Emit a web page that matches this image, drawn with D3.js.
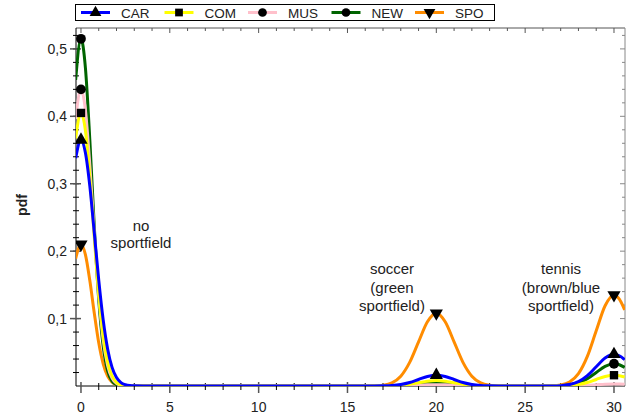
<!DOCTYPE html>
<html>
<head>
<meta charset="utf-8">
<script src="https://cdn.jsdelivr.net/npm/d3@7"></script>
<style>
  body { margin: 0; background: #fff; }
  text { font-family: "Liberation Sans", Arial, sans-serif; fill: #222; }
</style>
</head>
<body>
<svg id="chart" width="644" height="418"></svg>
<script>
// sample positions along x (dense near the peaks)
const xs = [-0.3, 0, 0.25, 0.5, 0.75, 1, 1.25, 1.5, 1.75, 2, 2.25, 2.5, 2.75, 3, 3.5, 4, 10,
  16, 16.5, 17, 17.5, 18, 18.5, 19, 19.5, 20, 20.5, 21, 21.5, 22, 22.5, 23, 23.5, 24,
  26, 26.5, 27, 27.5, 28, 28.5, 29, 29.5, 30, 30.3, 30.6];

const car = [0.338, 0.365, 0.346, 0.296, 0.227, 0.157, 0.098, 0.055, 0.0276, 0.0125, 0.0051, 0.0019, 0.0006, 0.0002, 0, 0, 0,
  0, 0, 0.0002, 0.0007, 0.0022, 0.0052, 0.0097, 0.0141, 0.016, 0.0141, 0.0097, 0.0052, 0.0022, 0.0007, 0.0002, 0, 0,
  0, 0.0001, 0.0005, 0.0021, 0.0064, 0.0153, 0.0285, 0.0415, 0.047, 0.0449, 0.039];
const com = [0.367, 0.405, 0.379, 0.309, 0.220, 0.137, 0.075, 0.0356, 0.0148, 0.0054, 0.0017, 0.0005, 0.0001, 0, 0, 0, 0,
  0, 0, 0.0001, 0.0004, 0.0011, 0.0026, 0.0049, 0.0071, 0.008, 0.0071, 0.0049, 0.0026, 0.0011, 0.0004, 0.0001, 0, 0,
  0, 0, 0.0002, 0.0007, 0.0022, 0.0052, 0.0097, 0.0141, 0.016, 0.0153, 0.0134];
const mus = [0.396, 0.44, 0.409, 0.327, 0.226, 0.135, 0.069, 0.0307, 0.0117, 0.0039, 0.0011, 0.0003, 0, 0, 0, 0, 0,
  0, 0, 0, 0.0001, 0.0003, 0.0006, 0.0012, 0.0018, 0.002, 0.0018, 0.0012, 0.0006, 0.0003, 0.0001, 0, 0, 0,
  0, 0, 0, 0.0001, 0.0004, 0.001, 0.0018, 0.0026, 0.003, 0.0029, 0.0025];
const nw = [0.454, 0.515, 0.472, 0.364, 0.236, 0.128, 0.059, 0.0226, 0.0073, 0.002, 0.0005, 0.0001, 0, 0, 0, 0, 0,
  0, 0, 0.0001, 0.0002, 0.0007, 0.0016, 0.003, 0.0044, 0.005, 0.0044, 0.003, 0.0016, 0.0007, 0.0002, 0.0001, 0, 0,
  0, 0, 0.0004, 0.0015, 0.0045, 0.0107, 0.02, 0.0291, 0.033, 0.0315, 0.0276];
const spo = [0.189, 0.21, 0.195, 0.156, 0.108, 0.064, 0.033, 0.0146, 0.0056, 0.0018, 0.0005, 0.0001, 0, 0, 0, 0, 0,
  0, 0.0002, 0.0012, 0.0047, 0.0146, 0.0351, 0.0655, 0.0953, 0.108, 0.0953, 0.0655, 0.0351, 0.0146, 0.0047, 0.0012, 0.0002, 0,
  0, 0.0003, 0.0015, 0.0059, 0.0183, 0.0439, 0.0819, 0.119, 0.135, 0.129, 0.113];

// x positions where each series shows a marker
const markerXs = [[0, 20, 30], [0, 30], [0], [0, 30], [0, 20, 30]];

const seriesNames = ['CAR', 'COM', 'MUS', 'NEW', 'SPO'];
const seriesValues = [car, com, mus, nw, spo];
const seriesColors = ['#0000ff', '#ffff00', '#ffc0cb', '#006400', '#ff8c00'];
const seriesSymbols = [d3.symbolTriangle, d3.symbolSquare, d3.symbolCircle, d3.symbolCircle, 'down'];

const xTicks = [0, 5, 10, 15, 20, 25, 30];
const yTicks = [0.1, 0.2, 0.3, 0.4, 0.5];

const svg = d3.select('#chart');
const mLeft = 76, mRight = 625, mTop = 28, mBottom = 386;

const x = d3.scaleLinear().domain([-0.28, 30.62]).range([mLeft, mRight]);
const y = d3.scaleLinear().domain([0, 0.531]).range([mBottom, mTop]);
const fmt = v => d3.format('.1f')(v).replace('.', ',');

svg.append('clipPath').attr('id', 'plotclip')
  .append('rect')
  .attr('x', mLeft).attr('y', mTop - 10)
  .attr('width', mRight - mLeft).attr('height', mBottom - mTop + 10);

// frame: top and right are drawn lighter
svg.append('line').attr('x1', mLeft).attr('x2', mRight).attr('y1', mTop).attr('y2', mTop)
  .attr('stroke', '#555').attr('stroke-width', 1);
svg.append('line').attr('x1', mRight).attr('x2', mRight).attr('y1', mTop).attr('y2', mBottom)
  .attr('stroke', '#888').attr('stroke-width', 1);

const xMinor = d3.range(0, 31, 1);
const yMinor = d3.range(0.02, 0.531, 0.02);

// top frame ticks
svg.selectAll('.tt').data(xMinor).enter().append('line')
  .attr('x1', d => x(d)).attr('x2', d => x(d))
  .attr('y1', mTop).attr('y2', d => mTop + (d % 5 === 0 ? 5 : 3))
  .attr('stroke', '#555');
// right frame ticks
svg.selectAll('.rt').data(yMinor).enter().append('line')
  .attr('y1', d => y(d)).attr('y2', d => y(d))
  .attr('x1', mRight).attr('x2', d => mRight - (Math.abs(d * 10 - Math.round(d * 10)) < 1e-6 ? 5 : 3))
  .attr('stroke', '#888');

// left axis
svg.append('line').attr('x1', mLeft).attr('x2', mLeft).attr('y1', mTop).attr('y2', mBottom)
  .attr('stroke', '#000');
svg.selectAll('.lmin').data(yMinor).enter().append('line')
  .attr('y1', d => y(d)).attr('y2', d => y(d))
  .attr('x1', mLeft - 3).attr('x2', mLeft + 3)
  .attr('stroke', '#000');
svg.selectAll('.lmaj').data(yTicks).enter().append('line')
  .attr('y1', d => y(d)).attr('y2', d => y(d))
  .attr('x1', mLeft - 6).attr('x2', mLeft + 5)
  .attr('stroke', '#555').attr('stroke-width', 1.5);
svg.selectAll('.ylab').data(yTicks).enter().append('text')
  .attr('x', mLeft - 9).attr('y', d => y(d) + 5)
  .attr('text-anchor', 'end').attr('font-size', 14)
  .text(fmt);

// bottom axis
svg.append('line').attr('x1', mLeft).attr('x2', mRight).attr('y1', mBottom).attr('y2', mBottom)
  .attr('stroke', '#000');
svg.selectAll('.bmin').data(xMinor.filter(d => d % 5 !== 0)).enter().append('line')
  .attr('x1', d => x(d)).attr('x2', d => x(d))
  .attr('y1', mBottom - 3).attr('y2', mBottom + 4)
  .attr('stroke', '#000');
svg.selectAll('.bmaj').data(xTicks).enter().append('line')
  .attr('x1', d => x(d)).attr('x2', d => x(d))
  .attr('y1', mBottom - 4).attr('y2', mBottom + 7)
  .attr('stroke', '#555').attr('stroke-width', 1.5);
svg.selectAll('.xlab').data(xTicks).enter().append('text')
  .attr('x', d => x(d)).attr('y', 412)
  .attr('text-anchor', 'middle').attr('font-size', 14)
  .text(d => d);

// y label
svg.append('text')
  .attr('transform', 'translate(27,205) rotate(-90)')
  .attr('text-anchor', 'middle').attr('font-size', 14).attr('font-weight', 'bold')
  .text('pdf');

// curves
const line = d3.line()
  .x((d, i) => x(xs[i]))
  .y(d => y(d))
  .curve(d3.curveMonotoneX);

const plot = svg.append('g').attr('clip-path', 'url(#plotclip)');
const order = [4, 3, 2, 1, 0];
order.forEach(k => {
  plot.append('path')
    .attr('d', line(seriesValues[k]))
    .attr('fill', 'none')
    .attr('stroke', seriesColors[k])
    .attr('stroke-width', 3);
});

function symbolPath(s, size) {
  if (s === 'down') return d3.symbol(d3.symbolTriangle, size)();
  return d3.symbol(s, size)();
}
function symbolTransform(s, px, py) {
  return s === 'down' ? `translate(${px},${py}) rotate(180)` : `translate(${px},${py})`;
}

order.forEach(k => {
  const vals = seriesValues[k];
  markerXs[k].forEach(mx => {
    const i = xs.indexOf(mx);
    plot.append('path')
      .attr('d', symbolPath(seriesSymbols[k], seriesSymbols[k] === d3.symbolSquare ? 70 : 75))
      .attr('transform', symbolTransform(seriesSymbols[k], x(mx), y(vals[i])))
      .attr('fill', '#000');
  });
});

// legend
const lg = svg.append('g');
lg.append('rect').attr('x', 75.5).attr('y', 4.5).attr('width', 419).attr('height', 16)
  .attr('fill', '#fff').attr('stroke', '#000');
seriesNames.forEach((name, k) => {
  const x0 = 81 + k * 83.5;
  lg.append('line').attr('x1', x0).attr('x2', x0 + 29).attr('y1', 12.5).attr('y2', 12.5)
    .attr('stroke', seriesColors[k]).attr('stroke-width', 3);
  lg.append('path')
    .attr('d', symbolPath(seriesSymbols[k], 60))
    .attr('transform', symbolTransform(seriesSymbols[k], x0 + 14.5, 12.5))
    .attr('fill', '#000');
  lg.append('text').attr('x', x0 + 40).attr('y', 17.5).attr('font-size', 13.5).text(name);
});

// annotations
const notes = [
  { cx: 141, lines: ['no', 'sportfield'], y0: 231 },
  { cx: 392, lines: ['soccer', '(green', 'sportfield)'], y0: 274 },
  { cx: 561, lines: ['tennis', '(brown/blue', 'sportfield)'], y0: 274 }
];
notes.forEach(n => {
  n.lines.forEach((t, i) => {
    svg.append('text').attr('x', n.cx).attr('y', n.y0 + i * (n.lines.length === 2 ? 17 : 18.5))
      .attr('text-anchor', 'middle').attr('font-size', 15).text(t);
  });
});
</script>
</body>
</html>
